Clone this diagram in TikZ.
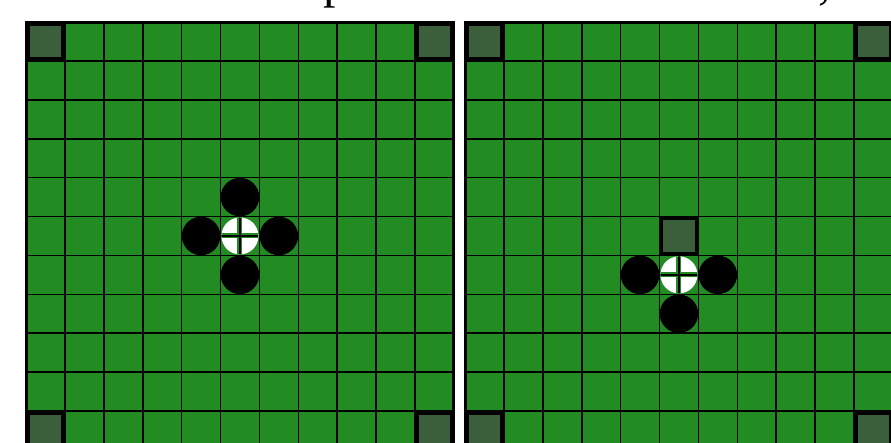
\documentclass[tikz,border=0pt]{standalone}
\usepackage{fontspec}
\setmainfont{Liberation Serif}
\definecolor{boardgreen}{RGB}{34,139,34}
\definecolor{walldark}{RGB}{59,94,59}
\tikzset{
  gridline/.style={black, line width=1.6},
  outerline/.style={black, line width=3},
  wall/.style={rectangle, minimum size=35.4, inner sep=0, fill=walldark, draw=black, line width=3.5},
  blackpiece/.style={circle, minimum size=38.5, inner sep=0, fill=black},
  whitepiece/.style={circle, minimum size=37, inner sep=0, fill=white},
  crossout/.style={boardgreen, line width=5},
  crossin/.style={black, line width=1.5},
  titletext/.style={font=\fontsize{50}{60}\selectfont, anchor=base west, inner sep=0}
}
\begin{document}
\begin{tikzpicture}[x=1pt,y=-1pt]
\useasboundingbox (0,0) rectangle (891,442);
\clip (0,0) rectangle (891,442);
\fill[white] (0,0) rectangle (891,442);
\def\c{38.9}
\def\top{22}
% title fragments (cut off by the top edge, as in the reference)
\node[titletext] (t1) at (323.5,-2.6) {p};
\node[titletext] (t2) at (818.5,-1.8) {,};
% boards
\foreach \ox/\nm in {26/L,465/R}{
  \fill[boardgreen] (\ox,\top) rectangle ++(11*\c,11*\c);
  \foreach \i in {1,...,10}{
    \draw[gridline] (\ox+\i*\c,\top) -- ++(0,11*\c);
    \draw[gridline] (\ox,\top+\i*\c) -- ++(11*\c,0);
  }
  \draw[outerline] (\ox,\top) rectangle ++(11*\c,11*\c);
  \foreach \cx/\cy/\k in {0/0/a,10/0/b,0/10/c,10/10/d}{
    \node[wall] (\nm-corner-\k) at (\ox+\cx*\c+0.5*\c,\top+\cy*\c+0.5*\c) {};
  }
}
% left board pieces (origin 26)
\node[blackpiece] (L-up) at (26+5.5*\c,22+4.5*\c) {};
\node[blackpiece] (L-left) at (26+4.5*\c,22+5.5*\c) {};
\node[blackpiece] (L-right) at (26+6.5*\c,22+5.5*\c) {};
\node[blackpiece] (L-down) at (26+5.5*\c,22+6.5*\c) {};
\node[whitepiece] (L-white) at (26+5.5*\c,22+5.5*\c) {};
\begin{scope}
  \clip (L-white.center) circle (18.5);
  \draw[crossout] (L-white.north) -- (L-white.south);
  \draw[crossout] (L-white.west) -- (L-white.east);
  \draw[crossin] (L-white.north) -- (L-white.south);
  \draw[crossin] (L-white.west) -- (L-white.east);
\end{scope}
% right board pieces (origin 465)
\node[wall] (R-wall) at (465+5.5*\c,22+5.5*\c) {};
\node[blackpiece] (R-left) at (465+4.5*\c,22+6.5*\c) {};
\node[blackpiece] (R-right) at (465+6.5*\c,22+6.5*\c) {};
\node[blackpiece] (R-down) at (465+5.5*\c,22+7.5*\c) {};
\node[whitepiece] (R-white) at (465+5.5*\c,22+6.5*\c) {};
\begin{scope}
  \clip (R-white.center) circle (18.5);
  \draw[crossout] (R-white.north) -- (R-white.south);
  \draw[crossout] (R-white.west) -- (R-white.east);
  \draw[crossin] (R-white.north) -- (R-white.south);
  \draw[crossin] (R-white.west) -- (R-white.east);
\end{scope}
\end{tikzpicture}
\end{document}
